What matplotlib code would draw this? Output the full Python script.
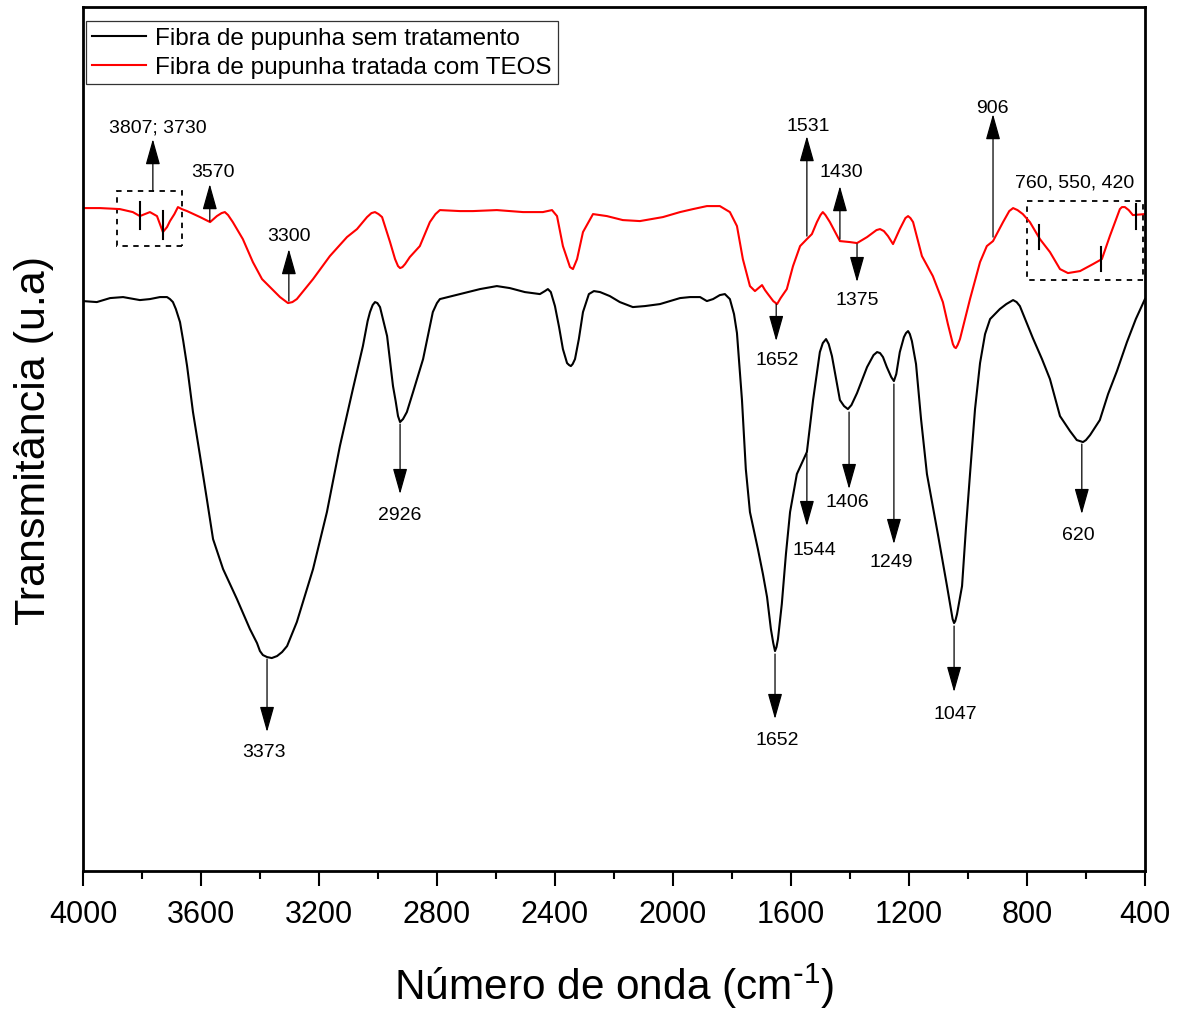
import matplotlib
matplotlib.use('Agg')
from matplotlib import pyplot as plt
from matplotlib.patches import Rectangle

plt.rcParams['font.family'] = ['Liberation Sans', 'DejaVu Sans']
plt.rcParams['mathtext.default'] = 'regular'

# Untreated fibre (black), wavenumber (cm-1) / transmittance (a.u.)
wn_raw = [4000, 3953, 3908, 3864, 3807, 3773, 3739, 3715, 3705, 3695, 3685, 3671, 3660, 3647,
          3627, 3603, 3580, 3559, 3525, 3478, 3434, 3410, 3400, 3390, 3376, 3360, 3342, 3325,
          3308, 3275, 3220, 3173, 3129, 3085, 3051, 3035, 3027, 3018, 3010, 3002, 2993, 2969,
          2949, 2940, 2932, 2925, 2915, 2902, 2881, 2847, 2814, 2800, 2790, 2722, 2654, 2597,
          2553, 2502, 2451, 2434, 2424, 2414, 2400, 2386, 2373, 2359, 2352, 2346, 2340, 2332,
          2319, 2305, 2285, 2268, 2247, 2214, 2180, 2136, 2095, 2044, 2010, 1976, 1942, 1908,
          1885, 1864, 1841, 1824, 1807, 1793, 1783, 1766, 1753, 1739, 1712, 1695, 1681, 1668,
          1660, 1654, 1649, 1644, 1631, 1617, 1603, 1580, 1546, 1525, 1502, 1492, 1481, 1472,
          1461, 1434, 1420, 1407, 1395, 1376, 1342, 1320, 1308, 1298, 1288, 1275, 1260, 1251,
          1243, 1231, 1217, 1210, 1203, 1197, 1190, 1176, 1159, 1139, 1102, 1071, 1058, 1052,
          1047, 1043, 1037, 1020, 1007, 993, 976, 959, 942, 925, 892, 870, 847, 835, 824, 780,
          749, 722, 688, 654, 631, 620, 610, 600, 586, 553, 525, 495, 461, 431, 400]
t_raw = [570, 569, 573, 574, 571, 572, 574, 574, 572, 569, 562, 549, 530, 505,
         459, 415, 372, 332, 302, 272, 242, 228, 220, 216, 214, 213, 215, 219,
         225, 249, 302, 359, 425, 482, 525, 550, 559, 566, 569, 568, 564, 535,
         485, 470, 455, 449, 452, 459, 479, 512, 559, 568, 572, 577, 582, 585,
         583, 579, 577, 580, 582, 579, 565, 544, 522, 508, 506, 505, 507, 512,
         532, 559, 577, 580, 579, 575, 569, 564, 565, 567, 570, 573, 574, 574,
         570, 572, 576, 577, 572, 557, 538, 471, 402, 359, 322, 297, 274, 242,
         228, 220, 224, 232, 267, 317, 359, 397, 419, 471, 519, 528, 532, 527,
         515, 471, 465, 462, 466, 478, 504, 516, 519, 518, 514, 504, 494, 490,
         497, 519, 534, 538, 540, 537, 530, 507, 452, 397, 337, 285, 262, 252,
         248, 250, 257, 285, 342, 397, 462, 508, 537, 552, 562, 567, 571, 569, 565, 533,
         512, 492, 455, 440, 431, 430, 429, 431, 436, 451, 477, 500, 529, 552, 572]

# TEOS-treated fibre (red)
wn_teos = [4000, 3942, 3875, 3831, 3807, 3790, 3773, 3749, 3729, 3715, 3705, 3690, 3678, 3665,
           3647, 3603, 3569, 3546, 3530, 3519, 3508, 3492, 3458, 3424, 3393, 3366, 3332, 3305,
           3290, 3275, 3220, 3163, 3105, 3071, 3037, 3022, 3010, 2998, 2986, 2959, 2942, 2932,
           2925, 2917, 2908, 2892, 2858, 2824, 2805, 2790, 2722, 2678, 2597, 2508, 2441, 2410,
           2393, 2373, 2349, 2339, 2325, 2305, 2271, 2224, 2170, 2112, 2034, 1976, 1932, 1885,
           1841, 1807, 1783, 1763, 1739, 1722, 1710, 1698, 1688, 1678, 1660, 1647, 1635, 1614,
           1593, 1569, 1546, 1529, 1512, 1500, 1492, 1483, 1468, 1434, 1400, 1376, 1342, 1310,
           1298, 1285, 1271, 1254, 1231, 1212, 1203, 1195, 1186, 1156, 1119, 1085, 1068, 1051,
           1046, 1041, 1035, 1027, 1010, 993, 959, 936, 915, 881, 860, 847, 832, 814, 790,
           756, 722, 688, 661, 620, 576, 546, 519, 485, 478, 468, 455, 441, 400]
t_teos = [663, 663, 662, 659, 655, 657, 659, 655, 639, 644, 650, 657, 664, 662,
          660, 654, 649, 655, 658, 659, 656, 649, 632, 609, 592, 584, 574, 568,
          569, 572, 592, 615, 634, 642, 654, 658, 659, 657, 654, 629, 612, 605,
          603, 604, 607, 614, 625, 649, 657, 661, 660, 660, 661, 659, 659, 661,
          655, 625, 604, 602, 612, 639, 657, 655, 651, 650, 654, 659, 662, 665,
          665, 659, 645, 612, 585, 580, 583, 586, 581, 577, 570, 567, 573, 582,
          605, 625, 632, 637, 649, 656, 659, 656, 649, 630, 629, 628, 634, 641,
          642, 640, 635, 627, 642, 653, 655, 653, 649, 615, 595, 569, 547, 527,
          524, 523, 526, 532, 552, 572, 609, 625, 630, 649, 660, 663, 661, 657, 649,
          632, 619, 602, 598, 600, 607, 612, 635, 662, 664, 664, 661, 656, 657]

# band annotations: label, arrow x, arrow start y, arrow end y, label x, label y
bands = [
    ('3807; 3730', 3763, 680, 732, 3746, 744),
    ('3570', 3570, 650, 687, 3560, 700),
    ('3300', 3302, 570, 622, 3300, 636),
    ('3373', 3376, 212, 139, 3385, 120),
    ('2926', 2925, 447, 377, 2925, 357),
    ('1652', 1650, 567, 530, 1647, 512),
    ('1652', 1654, 217, 152, 1647, 132),
    ('1544', 1546, 417, 345, 1519, 322),
    ('1531', 1546, 635, 735, 1542, 746),
    ('1430', 1434, 632, 685, 1430, 700),
    ('1375', 1376, 627, 589, 1376, 572),
    ('1406', 1403, 459, 382, 1410, 370),
    ('1249', 1251, 487, 327, 1261, 310),
    ('1047', 1047, 245, 179, 1044, 158),
    ('906', 915, 634, 757, 918, 764),
    ('620', 614, 427, 357, 627, 337),
]
group_label = ('760, 550, 420', 637, 689)

# dashed boxes (x0, x1, y0, y1) and short marker ticks (x, y0, y1)
boxes = [(3885, 3664, 625, 680), (800, 407, 591, 670)]
marks = [(3807, 642, 669), (3730, 632, 660), (760, 622, 646), (550, 600, 624), (430, 642, 667)]

fig = plt.figure(figsize=(11.85, 10.12), dpi=100)
ax = fig.add_axes([0.070, 0.1383, 0.8962, 0.8537])

ax.plot(wn_raw, t_raw, color='black', lw=1.5, label='Fibra de pupunha sem tratamento')
ax.plot(wn_teos, t_teos, color='#ff0000', lw=1.5, label='Fibra de pupunha tratada com TEOS')

for label, x, y0, y1, lx, ly in bands:
    ax.annotate('', xy=(x, y1), xytext=(x, y0),
                arrowprops=dict(arrowstyle='-|>,head_length=1.6,head_width=0.45',
                                color='black', lw=0.9, shrinkA=0, shrinkB=0,
                                mutation_scale=10))
    ax.text(lx, ly, label, ha='center', va='center', fontsize=14)

ax.text(group_label[1], group_label[2], group_label[0], ha='center', va='center', fontsize=14)

for x0, x1, y0, y1 in boxes:
    ax.add_patch(Rectangle((x1, y0), x0 - x1, y1 - y0, fill=False, ec='black',
                           lw=1.3, ls=(0, (3, 3))))
for x, y0, y1 in marks:
    ax.plot([x, x], [y0, y1], color='black', lw=1.5)

ax.set_xlim(4000, 400)
ax.set_ylim(0, 864)
ax.set_xticks(range(4000, 399, -400))
ax.set_xticks(range(3800, 399, -400), minor=True)
ax.set_yticks([])
ax.tick_params(axis='x', which='major', direction='out', length=11, width=1.5,
               labelsize=22, pad=9, top=False)
ax.tick_params(axis='x', which='minor', direction='out', length=6, width=1.5, top=False)
for s in ax.spines.values():
    s.set_linewidth(2.0)

ax.set_xlabel(r'Número de onda (cm$^{\text{-}1}$)', fontsize=30.5)
ax.xaxis.set_label_coords(0.5, -0.104)
ax.set_ylabel('Transmitância (u.a)', fontsize=31)
ax.yaxis.set_label_coords(-0.027, 0.5)

leg = ax.legend(loc='upper left', bbox_to_anchor=(0.003, 0.984), fontsize=17.5,
                frameon=True, fancybox=False, handlelength=2.2, handletextpad=0.4,
                borderpad=0.25, labelspacing=0.3, borderaxespad=0)
leg.get_frame().set_edgecolor('black')
leg.get_frame().set_linewidth(0.9)

fig.savefig('out.png', dpi=100)
